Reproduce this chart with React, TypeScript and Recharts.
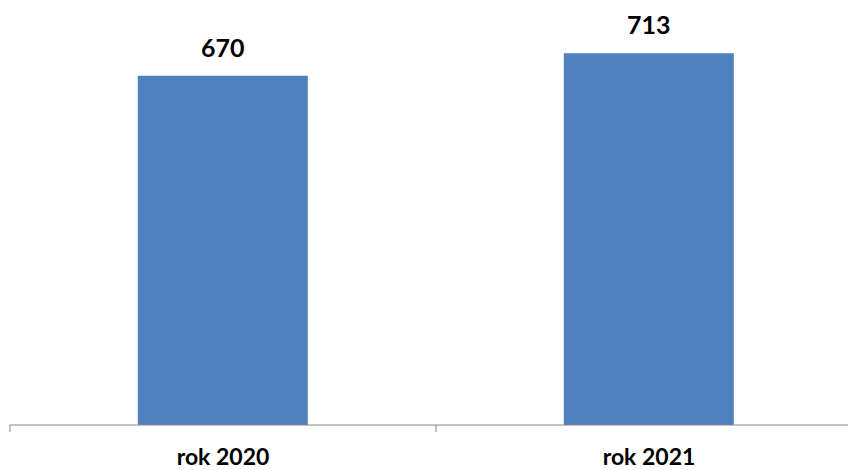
import { BarChart, Bar, XAxis, YAxis, LabelList } from "recharts";

const years = ["rok 2020", "rok 2021"];
const counts = [670, 713];

const data = years.map((year, i) => ({ year, count: counts[i] }));

const BAND = 426;

function YearTick({ x, y, payload, index }: any) {
  return (
    <g>
      <line x1={x - BAND / 2} y1={y - 8} x2={x - BAND / 2} y2={y - 1} stroke="#868686" />
      {index === years.length - 1 && (
        <line x1={x + BAND / 2} y1={y - 8} x2={x + BAND / 2} y2={y - 1} stroke="#868686" />
      )}
      <text
        x={x}
        y={y + 32}
        textAnchor="middle"
        fill="#000"
        fontSize={23}
        fontWeight={700}
        fontFamily="Lato, 'Open Sans', sans-serif"
      >
        {payload.value}
      </text>
    </g>
  );
}

export default function App() {
  return (
    <div
      style={{
        position: "absolute",
        left: 0,
        top: 0,
        width: 848,
        height: 470,
        overflow: "hidden",
        background: "#fff",
      }}
    >
      <BarChart
        width={870}
        height={470}
        data={data}
        margin={{ top: 8, right: 8, left: 10, bottom: 0 }}
        barCategoryGap="30%"
      >
        <XAxis
          dataKey="year"
          height={45}
          tickLine={false}
          axisLine={{ stroke: "#868686" }}
          tick={<YearTick />}
          interval={0}
        />
        <YAxis hide domain={[0, 800]} />
        <Bar dataKey="count" fill="#4F81BD" isAnimationActive={false}>
          <LabelList
            dataKey="count"
            position="top"
            offset={19}
            fill="#000"
            fontSize={25}
            fontWeight={700}
            fontFamily="Lato, 'Open Sans', sans-serif"
          />
        </Bar>
      </BarChart>
    </div>
  );
}
